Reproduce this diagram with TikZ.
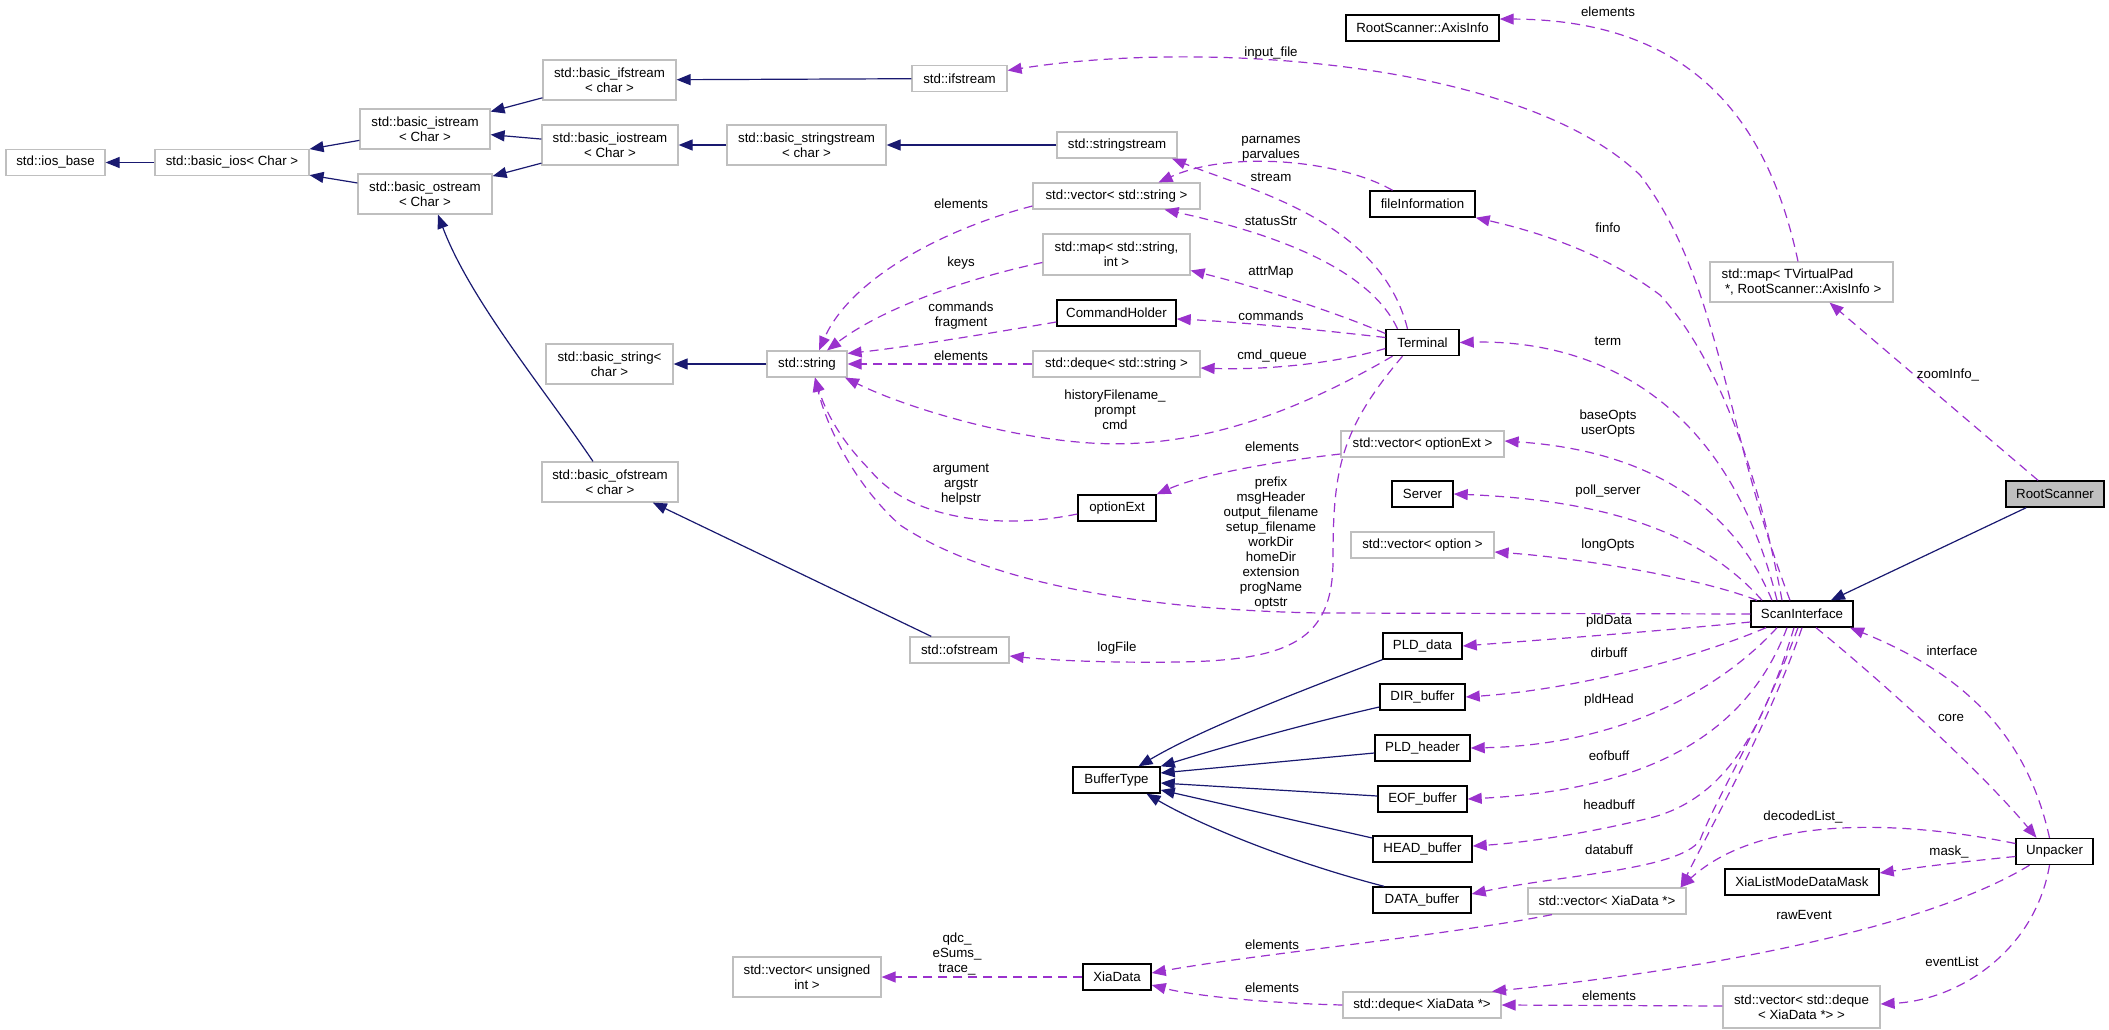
\documentclass[tikz,border=0pt]{standalone}
\usepackage{fontspec}
\setmainfont{Liberation Sans}
\usetikzlibrary{arrows.meta,calc}
\definecolor{inh}{HTML}{191970}
\definecolor{usec}{HTML}{9A32CD}
\definecolor{grayb}{HTML}{BFBFBF}
\begin{document}
\begin{tikzpicture}[x=1pt,y=-1pt,
  every node/.style={font=\fontsize{13.3}{15}\selectfont},
  ext/.style={draw=grayb, line width=1.2pt, fill=white, inner sep=2pt, align=center},
  cls/.style={draw=black, line width=1.4pt, fill=white, inner sep=2pt, align=center},
  one/.style={minimum height=26pt},
  two/.style={minimum height=40pt},
  inhedge/.style={draw=inh, line width=1.2pt, -{Triangle[length=14pt,width=11pt]}},
  useedge/.style={draw=usec, line width=1.2pt, dash pattern=on 9pt off 6pt, -{Triangle[length=14pt,width=11pt]}},
  lbl/.style={align=center, inner sep=0pt},
]
\useasboundingbox (0,0) rectangle (2109,1030);

% ---------- nodes ----------
\node[ext,one,minimum width=99pt] (iosb) at (55.5,162.5) {std::ios\_base};
\node[ext,one,minimum width=154pt] (bios) at (232,162.5) {std::basic\_ios< Char >};
\node[ext,two,minimum width=130pt] (bistream) at (425,129) {std::basic\_istream\\< Char >};
\node[ext,two,minimum width=134pt] (bostream) at (425,194) {std::basic\_ostream\\< Char >};
\node[ext,two,minimum width=133pt] (bifstream) at (609.5,80) {std::basic\_ifstream\\< char >};
\node[ext,two,minimum width=136pt] (biostream) at (610,145) {std::basic\_iostream\\< Char >};
\node[ext,two,minimum width=159pt] (bsstream) at (806.5,145) {std::basic\_stringstream\\< char >};
\node[ext,one,minimum width=95pt] (ifstream) at (959.5,78.5) {std::ifstream};
\node[ext,one,minimum width=120pt] (sstream) at (1117,145) {std::stringstream};
\node[ext,two,minimum width=127pt] (bstring) at (609.5,364) {std::basic\_string<\\ char >};
\node[ext,one,minimum width=80pt] (string) at (807,364) {std::string};
\node[ext,two,minimum width=136pt] (bofstream) at (610,482) {std::basic\_ofstream\\< char >};
\node[ext,one,minimum width=99pt] (ofstream) at (959.5,650) {std::ofstream};
\node[ext,one,minimum width=167pt] (vecstr) at (1116.5,196) {std::vector< std::string >};
\node[ext,two,minimum width=147pt,minimum height=41pt] (mapstr) at (1116.5,254.5) {std::map< std::string,\\ int >};
\node[cls,one,minimum width=119pt] (cmdh) at (1116.5,313) {CommandHolder};
\node[ext,one,minimum width=167pt] (deqstr) at (1116.5,364) {std::deque< std::string >};
\node[cls,one,minimum width=78pt] (optext) at (1117,508) {optionExt};
\node[cls,one,minimum width=87pt] (buftype) at (1116.5,780) {BufferType};
\node[ext,two,minimum width=148pt] (vecuint) at (807,977) {std::vector< unsigned\\ int >};
\node[cls,one,minimum width=68pt] (xiadata) at (1117,977) {XiaData};
\node[cls,one,minimum width=153pt] (axisinfo) at (1422.5,28) {RootScanner::AxisInfo};
\node[cls,one,minimum width=105pt] (fileinfo) at (1422.5,204) {fileInformation};
\node[cls,one,minimum width=73pt] (terminal) at (1422.5,342.5) {Terminal};
\node[ext,one,minimum width=163pt] (vecoptext) at (1422.5,444) {std::vector< optionExt >};
\node[cls,one,minimum width=61pt] (server) at (1422.5,494) {Server};
\node[ext,one,minimum width=143pt] (vecopt) at (1422.5,545) {std::vector< option >};
\node[cls,one,minimum width=79pt] (plddata) at (1422.5,646) {PLD\_data};
\node[cls,one,minimum width=85pt] (dirbuf) at (1422.5,697) {DIR\_buffer};
\node[cls,one,minimum width=95pt] (pldhdr) at (1422.5,748) {PLD\_header};
\node[cls,one,minimum width=89pt] (eofbuf) at (1422.5,799) {EOF\_buffer};
\node[cls,one,minimum width=99pt] (headbuf) at (1422.5,849) {HEAD\_buffer};
\node[cls,one,minimum width=98pt] (databuf) at (1422,900) {DATA\_buffer};
\node[ext,one,minimum width=158pt] (deqxia) at (1422,1005) {std::deque< XiaData *>};
\node[ext,one,minimum width=158pt] (vecxia) at (1607,901) {std::vector< XiaData *>};
\node[ext,two,minimum width=183pt,align=left] (maptv) at (1801.5,282) {std::map< TVirtualPad\\\hspace*{0.25em}*, RootScanner::AxisInfo >};
\node[cls,one,minimum width=102pt] (scanif) at (1802,614) {ScanInterface};
\node[cls,one,minimum width=154pt] (xlmdm) at (1802,882) {XiaListModeDataMask};
\node[ext,two,minimum width=157pt,minimum height=42pt] (vecdeq) at (1801.5,1007) {std::vector< std::deque\\< XiaData *> >};
\node[cls,one,minimum width=98pt,fill=grayb] (rootsc) at (2055,494) {RootScanner};
\node[cls,one,minimum width=77pt] (unpacker) at (2054.5,851.5) {Unpacker};

% ---------- inheritance ----------
\draw[inhedge] (bios) -- (iosb);
\draw[inhedge] (bistream) -- (bios);
\draw[inhedge] (bostream) -- (bios);
\draw[inhedge] (bifstream) -- (bistream);
\draw[inhedge] (biostream) -- (bistream);
\draw[inhedge] (biostream) -- (bostream);
\draw[inhedge] ([xshift=-17]bofstream.north) .. controls (545,390) and (470,300) .. ([xshift=13]bostream.south);
\draw[inhedge] (ifstream) -- (bifstream);
\draw[inhedge] (bsstream) -- (biostream);
\draw[inhedge] (sstream) -- (bsstream);
\draw[inhedge] (string) -- (bstring);
\draw[inhedge] (ofstream) -- (bofstream);
\draw[inhedge] (plddata.south west) .. controls (1290,695) and (1200,730) .. ([xshift=22]buftype.north);
\draw[inhedge] ([yshift=-10]dirbuf.west) .. controls (1300,725) and (1220,748) .. (buftype.north east);
\draw[inhedge] ([yshift=-5]pldhdr.west) -- ([yshift=7]buftype.east);
\draw[inhedge] ([yshift=3]eofbuf.west) -- ([yshift=-3]buftype.east);
\draw[inhedge] ([yshift=11]headbuf.west) -- ([yshift=-10]buftype.east);
\draw[inhedge] ([xshift=-38]databuf.north) .. controls (1290,862) and (1200,825) .. ([xshift=30]buftype.south);
\draw[inhedge] (rootsc) -- (scanif);

% ---------- usage ----------
\draw[useedge] ([xshift=-12]scanif.north) .. controls (1725,430) and (1720,280) .. (1640,175) .. controls (1520,60) and (1200,40) .. ([yshift=8]ifstream.east);
\draw[useedge] ([xshift=-3.5]maptv.north) .. controls (1770,130) and (1700,20) .. ([yshift=9]axisinfo.east);
\draw[useedge] ([xshift=-17]rootsc.north) -- ([xshift=28]maptv.south);
\draw[useedge] ([xshift=-30]fileinfo.north) .. controls (1340,160) and (1230,150) .. ([xshift=42]vecstr.north);
\draw[useedge] ([xshift=-15]terminal.north) .. controls (1380,220) and (1250,190) .. ([xshift=55]sstream.south);
\draw[useedge] ([xshift=-25]terminal.north) .. controls (1370,270) and (1280,235) .. ([xshift=48]vecstr.south);
\draw[useedge] ([yshift=9]terminal.west) .. controls (1330,310) and (1250,285) .. ([yshift=-16]mapstr.east);
\draw[useedge] ([yshift=5]terminal.west) .. controls (1320,330) and (1240,322) .. ([yshift=-6]cmdh.east);
\draw[useedge] ([yshift=-6]terminal.west) .. controls (1330,365) and (1260,370) .. ([yshift=-4]deqstr.east);
\draw[useedge] ([xshift=-30]terminal.south) .. controls (1300,410) and (1200,450) .. (1090,443) .. controls (1000,437) and (900,405) .. ([xshift=38]string.south);
\draw[useedge] ([xshift=-20]terminal.south) .. controls (1340,430) and (1333,470) .. (1333,560) .. controls (1333,640) and (1290,660) .. (1180,662) .. controls (1100,663) and (1050,660) .. ([yshift=-6]ofstream.east);
\draw[useedge] ([yshift=-10]vecoptext.west) .. controls (1270,462) and (1200,475) .. (optext.north east);
\draw[useedge] ([yshift=-6]optext.west) .. controls (1000,530) and (910,520) .. (870,470) .. controls (840,440) and (825,410) .. ([xshift=8]string.south);
\draw[useedge] (scanif.west) -- (1320,613) .. controls (1150,610) and (990,585) .. (900,525) .. controls (850,480) and (825,420) .. ([xshift=8]string.south);
\draw[useedge] ([xshift=-20]scanif.north) .. controls (1760,480) and (1720,360) .. (1660,295) .. controls (1600,250) and (1530,230) .. (fileinfo.south east);
\draw[useedge] ([xshift=-25]scanif.north) .. controls (1720,370) and (1560,340) .. (terminal.east);
\draw[useedge] ([xshift=-30]scanif.north) .. controls (1730,500) and (1640,450) .. ([yshift=3]vecoptext.east);
\draw[useedge] ([xshift=-40]scanif.north) .. controls (1700,530) and (1600,500) .. (server.east);
\draw[useedge] ([xshift=-45]scanif.north) .. controls (1700,578) and (1580,558) .. ([yshift=-7]vecopt.east);
\draw[useedge] ([yshift=-8]scanif.west) .. controls (1650,632) and (1540,640) .. (plddata.east);
\draw[useedge] ([xshift=-36]scanif.south) .. controls (1690,660) and (1570,690) .. (dirbuf.east);
\draw[useedge] ([xshift=-25]scanif.south) .. controls (1720,690) and (1620,745) .. (pldhdr.east);
\draw[useedge] ([xshift=-15]scanif.south) .. controls (1745,740) and (1640,790) .. (eofbuf.east);
\draw[useedge] ([xshift=-8]scanif.south) .. controls (1760,740) and (1720,800) .. (1650,818) .. controls (1580,835) and (1520,843) .. ([yshift=3]headbuf.east);
\draw[useedge] ([xshift=-4]scanif.south) .. controls (1760,730) and (1720,790) .. (1700,840) .. controls (1680,870) and (1560,875) .. ([yshift=6]databuf.east);
\draw[useedge] (scanif.south) .. controls (1770,720) and (1720,810) .. ([xshift=-6]vecxia.north east);
\draw[useedge] ([xshift=14]scanif.south) .. controls (1880,680) and (1980,770) .. ([xshift=-18]unpacker.north);
\draw[useedge] ([xshift=-5]unpacker.north) .. controls (2030,750) and (1980,680) .. ([xshift=48]scanif.south);
\draw[useedge] ([yshift=8]unpacker.west) .. controls (1900,820) and (1760,815) .. ([xshift=-6]vecxia.north east);
\draw[useedge] ([yshift=-5]unpacker.west) .. controls (1960,862) and (1920,867) .. ([yshift=9]xlmdm.east);
\draw[useedge] ([xshift=-25]unpacker.south) .. controls (1940,920) and (1750,965) .. ([xshift=70]deqxia.north);
\draw[useedge] ([xshift=-5]unpacker.south) .. controls (2035,950) and (1960,1000) .. ([yshift=3]vecdeq.east);
\draw[useedge] ([yshift=1]vecdeq.west) -- (deqxia.east);
\draw[useedge] (deqxia.west) .. controls (1260,1003) and (1190,995) .. ([yshift=-8]xiadata.east);
\draw[useedge] ([xshift=-55]vecxia.south) .. controls (1450,935) and (1250,955) .. ([yshift=4]xiadata.east);
\draw[useedge] (xiadata.west) -- (vecuint.east);
\draw[useedge] ([yshift=-10]vecstr.west) .. controls (940,230) and (850,280) .. ([xshift=12]string.north);
\draw[useedge] ([yshift=-8]mapstr.west) .. controls (960,280) and (880,310) .. ([xshift=20]string.north);
\draw[useedge] ([yshift=-9]cmdh.west) .. controls (980,335) and (900,348) .. ([yshift=-3]string.north east);
\draw[useedge] (deqstr.west) -- (string.east);

% ---------- labels ----------
\node[lbl] (l1) at (1271,53) {input\_file};
\node[lbl] (l2) at (1608,12) {elements};
\node[lbl] (l3) at (1948,375) {zoomInfo\_};
\node[lbl] (l4) at (1271,148.5) {parnames\\parvalues};
\node[lbl] (l5) at (1271,177) {stream};
\node[lbl] (l6) at (1271,221) {statusStr};
\node[lbl] (l7) at (1271,272) {attrMap};
\node[lbl] (l8) at (1271,316) {commands};
\node[lbl] (l9) at (1272,356) {cmd\_queue};
\node[lbl] (l10) at (1115,410) {historyFilename\_\\prompt\\cmd};
\node[lbl] (l11) at (1117,648) {logFile};
\node[lbl] (l12) at (1272,447) {elements};
\node[lbl] (l13) at (961,485) {argument\\argstr\\helpstr};
\node[lbl] (l14) at (1271,543.5) {prefix\\msgHeader\\output\_filename\\setup\_filename\\workDir\\homeDir\\extension\\progName\\optstr};
\node[lbl] (l15) at (1608,228) {finfo};
\node[lbl] (l16) at (1608,341) {term};
\node[lbl] (l17) at (1608,424) {baseOpts\\userOpts};
\node[lbl] (l18) at (1608,491) {poll\_server};
\node[lbl] (l19) at (1608,545) {longOpts};
\node[lbl] (l20) at (1609,621) {pldData};
\node[lbl] (l21) at (1609,653) {dirbuff};
\node[lbl] (l22) at (1609,700) {pldHead};
\node[lbl] (l23) at (1609,756) {eofbuff};
\node[lbl] (l24) at (1609,805) {headbuff};
\node[lbl] (l25) at (1609,850) {databuff};
\node[lbl] (l26) at (1803,817) {decodedList\_};
\node[lbl] (l27) at (1949,852) {mask\_};
\node[lbl] (l28) at (1804,915) {rawEvent};
\node[lbl] (l29) at (1952,962) {eventList};
\node[lbl] (l30) at (1609,996) {elements};
\node[lbl] (l31) at (1272,988) {elements};
\node[lbl] (l32) at (1272,945) {elements};
\node[lbl] (l33) at (957,954) {qdc\_\\eSums\_\\trace\_};
\node[lbl] (l34) at (961,204) {elements};
\node[lbl] (l35) at (961,263) {keys};
\node[lbl] (l36) at (961,316) {commands\\fragment};
\node[lbl] (l37) at (961,356) {elements};
\node[lbl] (l38) at (1951,718) {core};
\node[lbl] (l39) at (1952,651) {interface};
\end{tikzpicture}
\end{document}
